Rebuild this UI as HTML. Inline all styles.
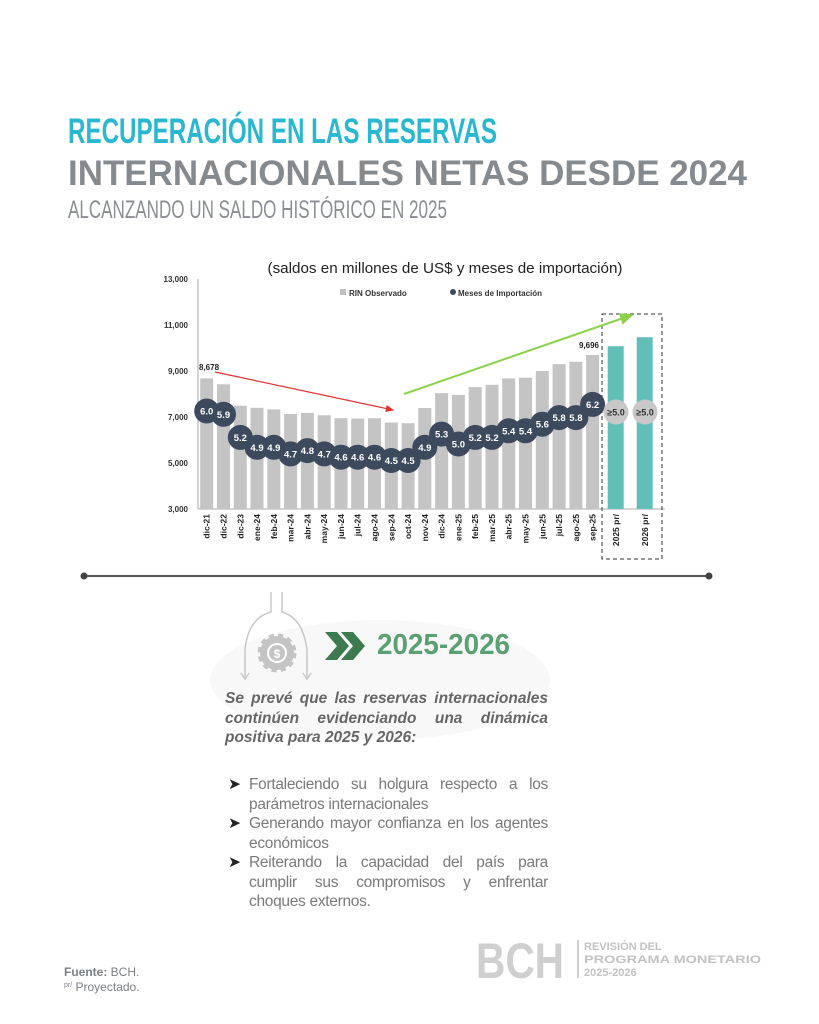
<!DOCTYPE html>
<html><head><meta charset="utf-8"><style>
body{margin:0;width:819px;height:1024px;background:#fff;position:relative;overflow:hidden;font-family:"Liberation Sans",sans-serif}
.p{position:absolute;left:225px;width:323px;text-align:justify;text-align-last:left}
</style></head><body>
<svg width="819" height="1024" style="position:absolute;left:0;top:0" font-family="Liberation Sans, sans-serif">
<text x="68" y="143" font-size="35" font-weight="bold" fill="#29b8cf" textLength="429" lengthAdjust="spacingAndGlyphs">RECUPERACIÓN EN LAS RESERVAS</text>
<text x="68" y="185" font-size="35" font-weight="bold" fill="#858a8f" textLength="679" lengthAdjust="spacingAndGlyphs">INTERNACIONALES NETAS DESDE 2024</text>
<text x="68" y="218" font-size="25" fill="#8a8e92" textLength="379" lengthAdjust="spacingAndGlyphs">ALCANZANDO UN SALDO HISTÓRICO EN 2025</text>

<ellipse cx="380" cy="680" rx="170" ry="60" fill="#f8f8f8"/>

<text x="445" y="273" font-size="14.5" fill="#222" text-anchor="middle" textLength="355" lengthAdjust="spacingAndGlyphs">(saldos en millones de US$ y meses de importación)</text>
<g font-size="8" font-weight="bold" fill="#333" text-anchor="end">
<text x="188" y="282">13,000</text><text x="188" y="328">11,000</text><text x="188" y="374">9,000</text><text x="188" y="420">7,000</text><text x="188" y="466">5,000</text><text x="188" y="512">3,000</text></g>
<rect x="340" y="289" width="6" height="6" fill="#bfbfbf"/><text x="349" y="296" font-size="8" font-weight="bold" fill="#333">RIN Observado</text>
<circle cx="453" cy="292" r="3" fill="#3d4a5e"/><text x="458" y="296" font-size="8" font-weight="bold" fill="#333">Meses de Importación</text>
<line x1="198" y1="279" x2="198" y2="509" stroke="#aaa"/>
<line x1="198" y1="509" x2="665" y2="509" stroke="#aaa"/>
<g fill="#c4c4c4">
<rect x="200.2" y="378.4" width="13" height="130.6"/><rect x="217" y="384.3" width="13" height="124.7"/><rect x="233.8" y="405.7" width="13" height="103.3"/><rect x="250.5" y="407.8" width="13" height="101.2"/><rect x="267.3" y="409.4" width="13" height="99.6"/><rect x="284.1" y="414" width="13" height="95"/><rect x="300.9" y="412.9" width="13" height="96.1"/><rect x="317.7" y="415.2" width="13" height="93.8"/><rect x="334.5" y="418.2" width="13" height="90.8"/><rect x="351.2" y="418.6" width="13" height="90.4"/><rect x="368" y="418.2" width="13" height="90.8"/><rect x="384.8" y="422.5" width="13" height="86.5"/><rect x="401.6" y="423.2" width="13" height="85.8"/><rect x="418.3" y="408" width="13" height="101"/><rect x="435.1" y="393.1" width="13" height="115.9"/><rect x="451.9" y="394.9" width="13" height="114.1"/><rect x="468.7" y="387.1" width="13" height="121.9"/><rect x="485.5" y="384.8" width="13" height="124.2"/><rect x="502.2" y="378.4" width="13" height="130.6"/><rect x="519" y="377.7" width="13" height="131.3"/><rect x="535.8" y="371" width="13" height="138"/><rect x="552.6" y="364.1" width="13" height="144.9"/><rect x="569.4" y="361.8" width="13" height="147.2"/><rect x="586.1" y="355" width="13" height="154"/></g>
<rect x="607.7" y="346.2" width="16" height="162.8" fill="#62bfb8"/><rect x="636.7" y="337.2" width="16" height="171.8" fill="#62bfb8"/>
<rect x="602" y="314" width="60" height="245" fill="none" stroke="#333" stroke-dasharray="4,3"/>
<text x="199" y="370" font-size="8" font-weight="bold" fill="#222">8,678</text>
<text x="599" y="348" font-size="8" font-weight="bold" fill="#222" text-anchor="end">9,696</text>
<defs><marker id="mr" markerWidth="8" markerHeight="8" refX="6" refY="3" orient="auto"><path d="M0,0L7,3L0,6z" fill="#e03030"/></marker>
<marker id="mg" markerWidth="8" markerHeight="8" refX="6" refY="3" orient="auto"><path d="M0,0L7,3L0,6z" fill="#8cd24a"/></marker></defs>
<line x1="215" y1="372" x2="393" y2="410" stroke="#e03030" stroke-width="1.2" marker-end="url(#mr)"/>
<line x1="404" y1="394" x2="632" y2="315" stroke="#8cd24a" stroke-width="2" marker-end="url(#mg)"/>
<g fill="#3d4a5e">
<circle cx="206.7" cy="411" r="12.5"/><circle cx="223.5" cy="414.3" r="12.5"/><circle cx="240.3" cy="437.4" r="12.5"/><circle cx="257" cy="447.3" r="12.5"/><circle cx="273.8" cy="447.3" r="12.5"/><circle cx="290.6" cy="453.9" r="12.5"/><circle cx="307.4" cy="450.6" r="12.5"/><circle cx="324.2" cy="453.9" r="12.5"/><circle cx="341" cy="457.2" r="12.5"/><circle cx="357.7" cy="457.2" r="12.5"/><circle cx="374.5" cy="457.2" r="12.5"/><circle cx="391.3" cy="460.5" r="12.5"/><circle cx="408.1" cy="460.5" r="12.5"/><circle cx="424.8" cy="447.3" r="12.5"/><circle cx="441.6" cy="434.1" r="12.5"/><circle cx="458.4" cy="444" r="12.5"/><circle cx="475.2" cy="437.4" r="12.5"/><circle cx="492" cy="437.4" r="12.5"/><circle cx="508.7" cy="430.8" r="12.5"/><circle cx="525.5" cy="430.8" r="12.5"/><circle cx="542.3" cy="424.2" r="12.5"/><circle cx="559.1" cy="417.6" r="12.5"/><circle cx="575.9" cy="417.6" r="12.5"/><circle cx="592.6" cy="404.4" r="12.5"/></g>
<circle cx="616" cy="412" r="12.5" fill="#c8c8c8"/><circle cx="645" cy="412" r="12.5" fill="#c8c8c8"/>
<g font-size="9.5" font-weight="bold" fill="#fff" text-anchor="middle">
<text x="206.7" y="414.5">6.0</text><text x="223.5" y="417.8">5.9</text><text x="240.3" y="440.9">5.2</text><text x="257" y="450.8">4.9</text><text x="273.8" y="450.8">4.9</text><text x="290.6" y="457.4">4.7</text><text x="307.4" y="454.1">4.8</text><text x="324.2" y="457.4">4.7</text><text x="341" y="460.7">4.6</text><text x="357.7" y="460.7">4.6</text><text x="374.5" y="460.7">4.6</text><text x="391.3" y="464">4.5</text><text x="408.1" y="464">4.5</text><text x="424.8" y="450.8">4.9</text><text x="441.6" y="437.6">5.3</text><text x="458.4" y="447.5">5.0</text><text x="475.2" y="440.9">5.2</text><text x="492" y="440.9">5.2</text><text x="508.7" y="434.3">5.4</text><text x="525.5" y="434.3">5.4</text><text x="542.3" y="427.7">5.6</text><text x="559.1" y="421.1">5.8</text><text x="575.9" y="421.1">5.8</text><text x="592.6" y="407.9">6.2</text></g>
<g font-size="9" font-weight="bold" fill="#333" text-anchor="middle"><text x="616" y="415.5">≥5.0</text><text x="645" y="415.5">≥5.0</text></g>
<g font-size="8.5" font-weight="bold" fill="#222" text-anchor="end">
<text transform="translate(209.7,514) rotate(-90)">dic-21</text><text transform="translate(226.5,514) rotate(-90)">dic-22</text><text transform="translate(243.3,514) rotate(-90)">dic-23</text><text transform="translate(260,514) rotate(-90)">ene-24</text><text transform="translate(276.8,514) rotate(-90)">feb-24</text><text transform="translate(293.6,514) rotate(-90)">mar-24</text><text transform="translate(310.4,514) rotate(-90)">abr-24</text><text transform="translate(327.2,514) rotate(-90)">may-24</text><text transform="translate(344,514) rotate(-90)">jun-24</text><text transform="translate(360.7,514) rotate(-90)">jul-24</text><text transform="translate(377.5,514) rotate(-90)">ago-24</text><text transform="translate(394.3,514) rotate(-90)">sep-24</text><text transform="translate(411.1,514) rotate(-90)">oct-24</text><text transform="translate(427.8,514) rotate(-90)">nov-24</text><text transform="translate(444.6,514) rotate(-90)">dic-24</text><text transform="translate(461.4,514) rotate(-90)">ene-25</text><text transform="translate(478.2,514) rotate(-90)">feb-25</text><text transform="translate(495,514) rotate(-90)">mar-25</text><text transform="translate(511.7,514) rotate(-90)">abr-25</text><text transform="translate(528.5,514) rotate(-90)">may-25</text><text transform="translate(545.3,514) rotate(-90)">jun-25</text><text transform="translate(562.1,514) rotate(-90)">jul-25</text><text transform="translate(578.9,514) rotate(-90)">ago-25</text><text transform="translate(595.6,514) rotate(-90)">sep-25</text><text transform="translate(619,514) rotate(-90)">2025 pr/</text><text transform="translate(648,514) rotate(-90)">2026 pr/</text></g>

<line x1="84" y1="576" x2="709" y2="576" stroke="#555" stroke-width="2"/>
<circle cx="84" cy="576" r="3.5" fill="#444"/><circle cx="709" cy="576" r="3.5" fill="#444"/>

<g stroke="#c8c8c8" stroke-width="1.5" fill="none">
<path d="M271,592V612Q248,618 245,650V678"/><path d="M282,592V612Q303,618 307,650V678"/>
<path d="M241,673L245,679L249,673"/><path d="M303,673L307,679L311,673"/></g>
<circle cx="277" cy="653" r="17" fill="#c4c4c4" stroke="#c4c4c4" stroke-width="5" stroke-dasharray="5,4"/>
<circle cx="277" cy="653" r="10" fill="#fff"/><circle cx="277" cy="653" r="8" fill="#c4c4c4"/>
<text x="277" y="658" font-size="12" font-weight="bold" fill="#fff" text-anchor="middle">$</text>
<path d="M325,632h12l12,14l-12,14h-12l12,-14z" fill="#3d7a4f"/><path d="M341,632h12l12,14l-12,14h-12l12,-14z" fill="#3d7a4f"/>
<text x="377" y="654" font-size="29" font-weight="bold" fill="#5aa070" textLength="133" lengthAdjust="spacingAndGlyphs">2025-2026</text>

<text x="476" y="978" font-size="50" font-weight="bold" fill="#cfcfcf" textLength="88" lengthAdjust="spacingAndGlyphs">BCH</text>
<rect x="577" y="940" width="2" height="38" fill="#cfcfcf"/>
<g font-size="11" font-weight="bold" fill="#c2c2c2"><text x="584" y="950">REVISIÓN DEL</text><text x="584" y="963" textLength="177" lengthAdjust="spacingAndGlyphs">PROGRAMA MONETARIO</text><text x="584" y="976">2025-2026</text></g>

<text x="64" y="976" font-size="12" fill="#7a7f87"><tspan font-weight="bold">Fuente:</tspan> BCH.</text>
<text x="64" y="991" font-size="12" fill="#7a7f87"><tspan font-size="7" dy="-4">pr/</tspan><tspan dy="4"> Proyectado.</tspan></text>
</svg>
<div class="p" style="top:689px;font-size:15.5px;line-height:19.5px;font-weight:bold;font-style:italic;color:#666">Se prevé que las reservas internacionales continúen evidenciando una dinámica positiva para 2025 y 2026:</div>
<div class="p" style="top:775px;left:249px;width:299px;font-size:15.5px;line-height:19.5px;color:#7a7a7a;letter-spacing:-0.3px">
<div style="position:relative;text-align:justify"><span style="position:absolute;left:-21px;color:#222">➤</span>Fortaleciendo su holgura respecto a los parámetros internacionales</div>
<div style="position:relative;text-align:justify"><span style="position:absolute;left:-21px;color:#222">➤</span>Generando mayor confianza en los agentes económicos</div>
<div style="position:relative;text-align:justify"><span style="position:absolute;left:-21px;color:#222">➤</span>Reiterando la capacidad del país para cumplir sus compromisos y enfrentar choques externos.</div>
</div>
</body></html>
